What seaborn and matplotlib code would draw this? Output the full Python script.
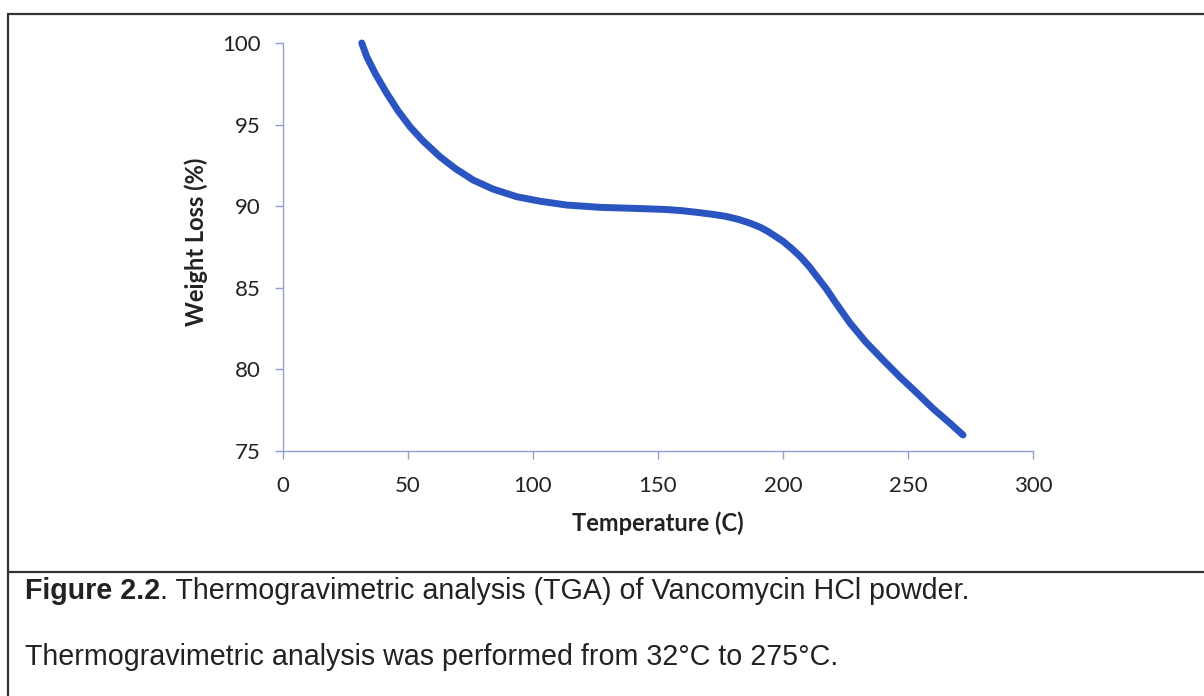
import matplotlib
matplotlib.use("Agg")
import matplotlib.pyplot as plt
import seaborn as sns
import pandas as pd
from matplotlib.lines import Line2D

# ---- data ----
temperature = [31.5, 33.5, 37, 41.5, 46, 50.8, 56, 62.8, 69, 76.1, 84, 93.5, 103,
               113.5, 126.8, 140, 153, 160, 166.8, 172, 177, 182, 187, 191, 194,
               197, 200, 203.5, 207, 210.5, 214, 217.5, 221, 226.8, 233, 240, 247,
               253.6, 260, 266.8, 272]
weight = [100, 99.16, 98.1, 96.92, 95.85, 94.87, 94.0, 93.03, 92.3, 91.6, 91.05,
          90.58, 90.3, 90.07, 89.93, 89.87, 89.8, 89.72, 89.6, 89.5, 89.38, 89.2,
          88.95, 88.7, 88.45, 88.15, 87.85, 87.4, 86.9, 86.3, 85.6, 84.9, 84.1,
          82.84, 81.7, 80.58, 79.5, 78.55, 77.6, 76.7, 75.98]
x_ticks = [0, 50, 100, 150, 200, 250, 300]
y_ticks = [75, 80, 85, 90, 95, 100]

x_label = "Temperature (C)"
y_label = "Weight Loss (%)"
caption_bold = "Figure 2.2"
caption_rest = ". Thermogravimetric analysis (TGA) of Vancomycin HCl powder."
caption_line2 = "Thermogravimetric analysis was performed from 32\u00b0C to 275\u00b0C."

df = pd.DataFrame({"Temperature": temperature, "Weight": weight})

sns.set_style("white")
plt.rcParams['font.family'] = ['Lato', 'DejaVu Sans']

W, H = 1204, 696
fig = plt.figure(figsize=(W / 100, H / 100), dpi=100)
ax = fig.add_axes([283 / W, 1 - 451 / H, 750 / W, 408 / H])

line_color = "#2a55c0"
axis_color = "#8fa0d2"

sns.lineplot(data=df, x="Temperature", y="Weight", ax=ax, color=line_color,
             linewidth=5.0, solid_capstyle="round", solid_joinstyle="round",
             clip_on=False)

ax.set_xlim(0, 300)
ax.set_ylim(75, 100)
ax.set_xticks(x_ticks)
ax.set_yticks(y_ticks)
ax.set_xticklabels([str(v) for v in x_ticks])
ax.set_yticklabels([str(v) for v in y_ticks])

for s in ["top", "right"]:
    ax.spines[s].set_visible(False)
for s in ["left", "bottom"]:
    ax.spines[s].set_color(axis_color)
    ax.spines[s].set_linewidth(1.0)

ax.tick_params(axis="both", direction="out", length=6, width=1.0,
               color=axis_color, labelsize=16, labelcolor="#222222",
               bottom=True, left=True)
ax.tick_params(axis="y", pad=10)
ax.tick_params(axis="x", pad=12)

ax.set_xlabel(x_label, fontsize=17, fontweight="bold", color="#222222")
ax.set_ylabel(y_label, fontsize=17, fontweight="bold", color="#222222")
ax.xaxis.set_label_coords(0.5, (451 - 511) / 408)
ax.yaxis.set_label_coords((208 - 283) / 750, (451 - 242) / 408)

# frame lines of the figure box
border_kw = dict(color="#333333", linewidth=1.6, transform=fig.transFigure)
fig.add_artist(Line2D([8 / W, 1], [1 - 14 / H, 1 - 14 / H], **border_kw))
fig.add_artist(Line2D([8 / W, 8 / W], [0, 1 - 14 / H], **border_kw))
fig.add_artist(Line2D([8 / W, 1], [1 - 572 / H, 1 - 572 / H], **border_kw))

# caption
cap_font = ["Liberation Sans", "DejaVu Sans"]
cap_size = 20.6
t1 = fig.text(25 / W, 1 - 599 / H, caption_bold, fontsize=cap_size, fontweight="bold",
              family=cap_font, va="baseline", ha="left", color="#222222")
fig.canvas.draw()
bb = t1.get_window_extent(renderer=fig.canvas.get_renderer())
fig.text(bb.x1 / W, 1 - 599 / H, caption_rest, fontsize=cap_size,
         family=cap_font, va="baseline", ha="left", color="#222222")
fig.text(25 / W, 1 - 665 / H, caption_line2, fontsize=cap_size,
         family=cap_font, va="baseline", ha="left", color="#222222")

fig.savefig("out.png", dpi=100, facecolor="white")
